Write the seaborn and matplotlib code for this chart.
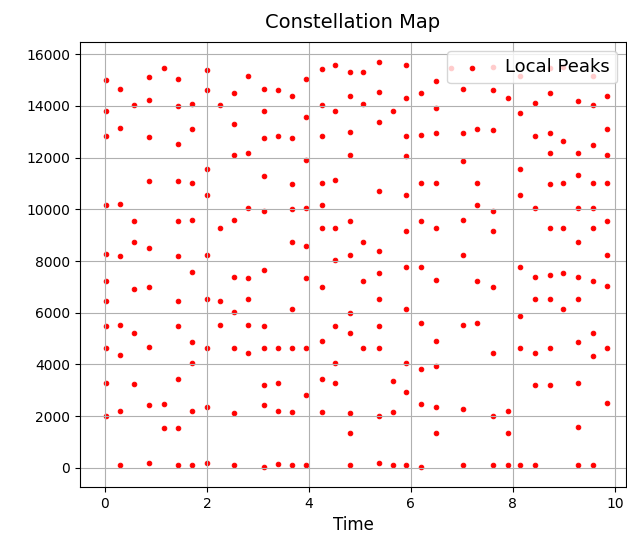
import matplotlib
matplotlib.use("Agg")
import matplotlib.pyplot as plt
import seaborn as sns

# peaks, one line per time frame
peak_time = (
    [0.02] * 11 + [0.30] * 8 + [0.57] * 6 + [0.87] * 9 + [1.16] * 3 + [1.43] * 11
    + [1.70] * 9 + [2.00] * 9 + [2.26] * 4 + [2.54] * 9 + [2.81] * 7 + [3.11] * 11
    + [3.39] * 6 + [3.67] * 9 + [3.94] * 9 + [4.25] * 10 + [4.52] * 8 + [4.81] * 11
    + [5.07] * 5 + [5.37] * 11 + [5.64] * 4 + [5.91] * 11 + [6.19] * 9 + [6.49] * 10
    + [6.78] * 1 + [7.03] * 8 + [7.30] * 5 + [7.61] * 9 + [7.90] * 4 + [8.14] * 8
    + [8.43] * 8 + [8.72] * 10 + [8.98] * 6 + [9.27] * 11 + [9.57] * 10 + [9.85] * 9
)
peak_freq = [
    15000, 13820, 12840, 10150, 8290, 7230, 6450, 5470, 4640, 3300, 2000,
    14650, 13150, 10200, 8210, 5520, 4380, 2210, 90,
    14030, 9530, 8750, 6920, 5210, 3250,
    15110, 14230, 12790, 11080, 8500, 6980, 4690, 2420, 190,
    15480, 2470, 1540,
    15060, 13980, 12530, 11080, 9530, 8210, 6450, 5470, 3450, 1540, 90,
    14080, 13100, 11030, 9580, 7590, 4850, 4070, 2210, 90,
    15370, 14600, 11550, 10560, 8240, 6520, 4640, 2370, 190,
    14030, 9270, 6470, 5540,
    14500, 13300, 12110, 9580, 7400, 6040, 4640, 2110, 90,
    15170, 12170, 10050, 7340, 6520, 5540, 4430,
    14650, 13820, 12740, 11290, 9940, 7650, 5470, 4640, 3190, 2420, 40,
    14600, 12840, 4640, 3300, 2210, 140,
    14390, 12740, 10980, 10000, 8750, 6140, 4640, 2160, 90,
    15060, 13570, 11910, 10050, 8600, 7330, 4640, 2830, 90,
    15430, 14030, 12840, 11030, 10150, 9270, 6980, 4920, 3450, 2160,
    15580, 13820, 11130, 9270, 8030, 5470, 4070, 3300,
    15320, 14390, 13000, 12110, 9530, 8240, 6000, 5230, 2110, 1330, 90,
    15320, 14080, 8750, 7240, 4640,
    15690, 14550, 13360, 10720, 8390, 7550, 6520, 5470, 4640, 2000, 190,
    13820, 3350, 2160, 90,
    15580, 14290, 12840, 12060, 10560, 9170, 7770, 6140, 4070, 2940, 90,
    14500, 12890, 11030, 9530, 7770, 5620, 3810, 2470, 40,
    14960, 13930, 12940, 11030, 9270, 7280, 4900, 3920, 2370, 1330,
    15480,
    14650, 12940, 11860, 9580, 8240, 5520, 2260, 90,
    13100, 11030, 10150, 7240, 5590,
    15520, 14600, 13050, 9920, 9170, 6980, 4430, 2000, 90,
    14290, 2210, 1330, 90,
    15170, 13720, 11550, 10560, 7770, 5880, 4640, 90,
    14130, 12840, 10050, 7400, 6520, 4430, 3190, 90,
    15470, 14500, 12940, 12170, 10980, 9270, 7450, 6520, 4640, 3190,
    15490, 12630, 11030, 9270, 7550, 6160,
    14190, 12170, 11340, 10050, 8750, 7400, 6520, 4860, 3300, 1590, 90,
    15170, 14030, 12480, 11030, 10050, 9270, 7240, 5230, 4330, 90,
    14390, 13100, 12110, 11030, 9530, 8240, 7030, 4640, 2520,
]

fig = plt.figure(figsize=(6.27, 5.41), dpi=100)
ax = fig.add_axes([80 / 627, 54 / 541, 546 / 627, 445 / 541])

sns.scatterplot(x=peak_time, y=peak_freq, color="red", s=11,
                edgecolor="red", linewidth=0.7, label="Local Peaks", ax=ax)

ax.set_xlim(-0.49, 10.22)
ax.grid(True)
ax.set_title("Constellation Map", fontsize=14, pad=10)
ax.set_xlabel("Time", fontsize=12)
ax.legend(loc="upper right", fontsize=13)

fig.savefig("out.png", dpi=100)
